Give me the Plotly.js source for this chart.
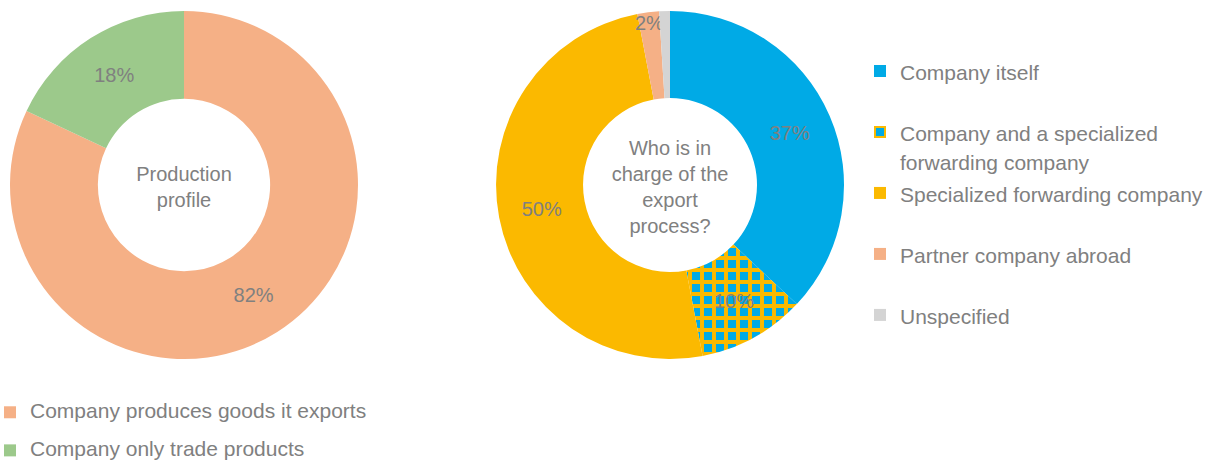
<!DOCTYPE html>
<html>
<head>
<meta charset="utf-8">
<script src="https://cdn.plot.ly/plotly-3.0.1.min.js"></script>
<style>html,body{margin:0;padding:0;background:#fff;}#chart{width:1211px;height:461px;}</style>
</head>
<body>
<div id="chart"></div>
<script>
// ---- data ----
const profileLabels = ["Company produces goods it exports", "Company only trade products"];
const profileValues = [82, 18];
const profileTitle = "Production<br>profile";

const exportLabels = ["Company itself", "Company and a specialized<br>forwarding company", "Specialized forwarding company", "Partner company abroad", "Unspecified"];
const exportValues = [37, 10, 50, 2, 1];
const exportTitle = "Who is in<br>charge of the<br>export<br>process?";

// ---- styles ----
const grey = "#808080";
const font = "Liberation Sans, Arial, sans-serif";
const W = 1211, H = 461;
const blue = "#00AAE6", yellow = "#FBB900";
const profileColors = ["#F5B086", "#9CC98B"];
const exportColors = [blue, blue, yellow, "#F5B086", "#D4D4D4"];

// legend display text: visible 21px text plus a padding line to space entries
const span = t => "<span style='font-size:21px'>" + t + "</span>";
const profileLegendText = profileLabels.map(l => span(l) + "<br> ");
const exportLegendText = exportLabels.map(l => span(l) + (l.indexOf("<br>") >= 0 ? "" : "<br> "));

const pieLeft = {
  type: "pie",
  labels: profileLegendText,
  values: profileValues,
  sort: false,
  direction: "clockwise",
  rotation: 0,
  hole: 0.495,
  domain: {x: [10 / W, 358 / W], y: [1 - 359 / H, 1 - 11 / H]},
  marker: {colors: profileColors, line: {width: 0}},
  textinfo: "percent",
  textposition: "inside",
  insidetextorientation: "horizontal",
  textfont: {size: 20, color: grey, family: font},
  title: {text: profileTitle, position: "middle center", font: {size: 20, color: grey, family: font}},
  legend: "legend",
  hoverinfo: "percent"
};

const pieRight = {
  type: "pie",
  labels: exportLegendText,
  values: exportValues,
  sort: false,
  direction: "clockwise",
  rotation: 0,
  hole: 0.5,
  domain: {x: [496 / W, 844 / W], y: [1 - 359 / H, 1 - 11 / H]},
  marker: {
    colors: exportColors,
    line: {width: 0},
    pattern: {shape: ["", "+", "", "", ""], fgcolor: yellow, bgcolor: blue, size: 12, solidity: 0.55}
  },
  texttemplate: ["%{percent}", "%{percent}", "%{percent}", "%{percent}", ""],
  textposition: "inside",
  insidetextorientation: "horizontal",
  textfont: {size: 20, color: grey, family: font},
  title: {text: exportTitle, position: "middle center", font: {size: 20, color: grey, family: font}},
  legend: "legend2",
  hoverinfo: "percent"
};

const layout = {
  width: W, height: H,
  margin: {l: 0, r: 0, t: 0, b: 0, autoexpand: false},
  paper_bgcolor: "#fff",
  plot_bgcolor: "#fff",
  font: {family: font, color: grey},
  uniformtext: {mode: "show", minsize: 20},
  showlegend: true,
  legend: {
    xref: "container", yref: "container",
    x: 0, y: 1 - 397 / H, xanchor: "left", yanchor: "top",
    orientation: "v", valign: "top", indentation: -10, maxheight: 400,
    font: {size: 13.5, color: grey, family: font},
    bgcolor: "rgba(0,0,0,0)"
  },
  legend2: {
    xref: "container", yref: "container",
    x: 860 / W, y: 1 - 50 / H, xanchor: "left", yanchor: "top",
    orientation: "v", valign: "top", maxheight: 450,
    font: {size: 22.3, color: grey, family: font},
    bgcolor: "rgba(0,0,0,0)"
  }
};

Plotly.newPlot("chart", [pieLeft, pieRight], layout, {displayModeBar: false, staticPlot: true});
</script>
</body>
</html>
